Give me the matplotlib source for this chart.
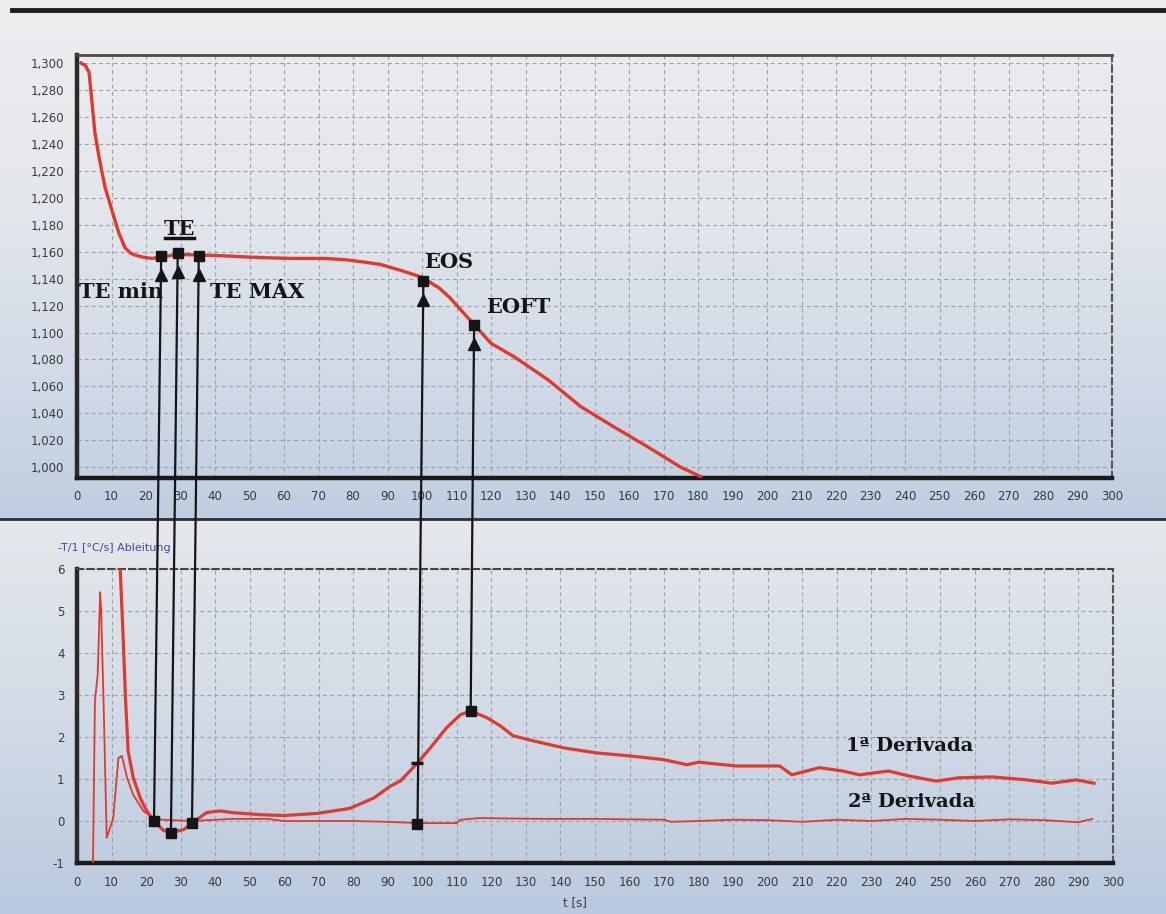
import numpy as np
import matplotlib
matplotlib.use("Agg")
import matplotlib.pyplot as plt
from matplotlib.patches import ConnectionPatch
from matplotlib.lines import Line2D
from matplotlib.ticker import FuncFormatter, MultipleLocator

plt.rcParams["axes.unicode_minus"] = False

# cooling curve T [°C] vs t [s]
cool_t = [1.2, 2.5, 3.5, 4.3, 5.2, 6.4, 8.1, 10.1, 12.1, 13.9, 15.5, 16.8, 19, 21.7,
          24.6, 28.9, 36, 42, 49.7, 55, 62, 71.7, 78, 84, 88, 94, 100, 105, 108, 114,
          120, 126.7, 136.5, 146, 155.6, 165.5, 175, 180.8]
cool_T = [1300, 1298, 1293, 1272, 1248, 1230, 1208, 1191, 1174, 1163, 1159, 1157.5, 1156, 1155,
          1156, 1158, 1157.5, 1157, 1156, 1155.5, 1155, 1155, 1154, 1152, 1150.5, 1146, 1141, 1133, 1126, 1109,
          1092, 1082, 1065, 1045, 1030, 1015, 1000, 993]

# first derivative
d1_t = [3, 6, 9, 11, 12.4, 13.3, 14.0, 14.8, 16.3, 18.3, 20.2, 22.3, 25, 27.2, 31, 33.3,
        37.5, 41.4, 45, 53, 60, 69.5, 79, 86, 90.7, 93.6, 98.6, 102.3, 107, 111, 114,
        118.7, 122.5, 126.3, 131, 141, 150.6, 160, 170, 176.6, 180, 191, 197.7, 203.5,
        207, 215, 221.7, 226.6, 235, 241, 248.8, 255.5, 265, 274.9, 282.4, 289.3, 294.5]
d1_v = [12, 11, 9, 7.5, 6.2, 4.5, 3.0, 1.67, 1.03, 0.55, 0.24, 0.0, -0.22, -0.28, -0.2, -0.05,
        0.2, 0.24, 0.2, 0.15, 0.13, 0.18, 0.3, 0.55, 0.83, 0.95, 1.38, 1.74, 2.22, 2.53, 2.62,
        2.46, 2.27, 2.03, 1.93, 1.74, 1.62, 1.55, 1.46, 1.34, 1.4, 1.31, 1.31, 1.31,
        1.1, 1.27, 1.19, 1.1, 1.19, 1.07, 0.95, 1.03, 1.05, 0.98, 0.9, 0.98, 0.9]

# second derivative
d2_t = [4.6, 5.2, 6.0, 6.7, 7.0, 7.8, 8.6, 10.5, 12.0, 13.0, 14.5, 16.3, 19.2, 22.3, 25,
        33, 38, 45, 55, 60, 70, 80, 90, 98.6, 105, 110, 111, 116.5, 125, 135.8, 150, 160,
        170, 172, 180, 190, 200, 210, 220, 230, 240, 250, 260, 270, 280, 290, 294]
d2_v = [-1.2, 2.86, 3.5, 5.45, 5.0, 2.47, -0.4, 0.07, 1.5, 1.55, 1.03, 0.62, 0.24, 0.05, 0.03,
        0.0, 0.02, 0.05, 0.05, 0.0, 0.0, 0.0, -0.02, -0.05, -0.05, -0.05, 0.03, 0.07, 0.06, 0.05,
        0.05, 0.04, 0.03, -0.02, 0.0, 0.03, 0.02, -0.02, 0.03, 0.0, 0.05, 0.03, 0.0, 0.04,
        0.02, -0.03, 0.05]

# characteristic points: top marker (t, T) and bottom marker (t, derivative)
point_names = ["TE min", "TE", "TE MÁX", "EOS", "EOFT"]
top_t = [24.4, 29.2, 35.3, 100.4, 115.1]
top_T = [1157, 1159, 1157, 1138, 1105.5]
bot_t = [22.3, 27.2, 33.3, 98.6, 114.0]
bot_v = [0.0, -0.28, -0.05, -0.07, 2.62]
eos_d1 = 1.38  # EOS crossing on the 1st derivative

RED = "#e03a30"
GRID = "#9ba1a9"

fig = plt.figure(figsize=(11.66, 9.14), dpi=100)

# background gradient
bg = fig.add_axes([0, 0, 1, 1], zorder=-10)
rows = np.arange(914)
stops_y = [0, 200, 400, 518, 520, 700, 913]
stops_c = np.array([[236, 237, 239], [228, 231, 236], [206, 216, 230], [192, 206, 225],
                    [229, 232, 236], [212, 220, 231], [186, 201, 222]]) / 255
grad = np.stack([np.interp(rows, stops_y, stops_c[:, i]) for i in range(3)], axis=1)
bg.imshow(grad[:, None, :], aspect="auto", extent=[0, 1, 0, 1])
bg.axis("off")

W, H = 1166, 914
ax1 = fig.add_axes([77 / W, 1 - 478 / H, (1112 - 77) / W, (478 - 55) / H])
ax2 = fig.add_axes([77 / W, 1 - 863 / H, (1113 - 77) / W, (863 - 569) / H])

for ax in (ax1, ax2):
    ax.set_facecolor("none")
    ax.set_xlim(0, 300)
    ax.xaxis.set_major_locator(MultipleLocator(10))
    ax.tick_params(length=0, labelsize=8.5, labelcolor="#3a3a3a", pad=9)
    ax.grid(True, color=GRID, linestyle=(0, (3.5, 3)), linewidth=0.8)
    ax.spines["left"].set_linewidth(3.2)
    ax.spines["left"].set_color("#2a2a2a")
    ax.spines["bottom"].set_linewidth(3.2)
    ax.spines["bottom"].set_color("#1a1a1a")
    ax.spines["right"].set_linestyle((0, (3, 2)))
    ax.spines["right"].set_color("#555555")
    ax.spines["right"].set_linewidth(1.5)

ax1.spines["top"].set_color("#4a4a4a")
ax1.spines["top"].set_linewidth(2)
ax2.spines["top"].set_linestyle((0, (3, 2)))
ax2.spines["top"].set_color("#444444")
ax2.spines["top"].set_linewidth(1.5)

ax1.set_ylim(992, 1306)
ax1.set_yticks(np.arange(1000, 1301, 20))
ax1.yaxis.set_major_formatter(FuncFormatter(lambda v, p: f"{v:,.0f}"))
ax2.set_ylim(-1, 6)
ax2.set_yticks(range(-1, 7))

ax1.plot(cool_t, cool_T, color=RED, lw=2.4, zorder=3)
ax2.plot(d1_t, d1_v, color=RED, lw=2.3, zorder=3)
ax2.plot(d2_t, d2_v, color=RED, lw=1.3, zorder=3)

# connecting lines between both panels
for tt, TT, bt, bv in zip(top_t, top_T, bot_t, bot_v):
    con = ConnectionPatch(xyA=(tt, TT), coordsA=ax1.transData,
                          xyB=(bt, bv), coordsB=ax2.transData,
                          color="#151515", lw=1.6, zorder=6)
    fig.add_artist(con)
    ax1.plot(tt, TT, marker="s", ms=7, color="#151515", zorder=7, clip_on=False)
    ax1.plot(tt, TT - 14, marker="^", ms=8, color="#151515", zorder=7)
    ax2.plot(bt, bv, marker="s", ms=7, color="#151515", zorder=7)
ax2.plot(bot_t[3], eos_d1, marker="_", ms=9, mew=2.5, color="#151515", zorder=7)

serif = dict(family="DejaVu Serif", weight="bold", color="#141414", fontsize=15)
ax1.text(12.9, 1130, point_names[0], ha="center", va="center", **serif)
ax1.text(29.8, 1177, point_names[1], ha="center", va="center", **serif)
ax1.plot([25.6, 34.0], [1170, 1170], color="#141414", lw=2.5)
ax1.text(52.2, 1130, point_names[2], ha="center", va="center", **serif)
ax1.text(107.6, 1152, point_names[3], ha="center", va="center", **serif)
ax1.text(127.8, 1119, point_names[4], ha="center", va="center", **serif)

serif_b = dict(serif, fontsize=14)
ax2.text(241, 1.79, "1ª Derivada", ha="center", va="center", **serif_b)
ax2.text(241.8, 0.45, "2ª Derivada", ha="center", va="center", **serif_b)

ax2.text(-0.018, 1.07, "-T/1 [°C/s] Ableitung", transform=ax2.transAxes,
         fontsize=8, color="#3f4aa0", ha="left", va="center")
fig.text(575 / W, 1 - 903 / H, "t [s]", fontsize=8.5, color="#3a3a3a",
         ha="center", va="center")

# frame lines of the original screenshot
fig.add_artist(Line2D([12 / W, 1], [1 - 10 / H] * 2, lw=3.5, color="#1e1e1e"))
fig.add_artist(Line2D([0, 1], [1 - 519 / H] * 2, lw=2, color="#2e2e2e"))

fig.savefig("out.png", dpi=100)
